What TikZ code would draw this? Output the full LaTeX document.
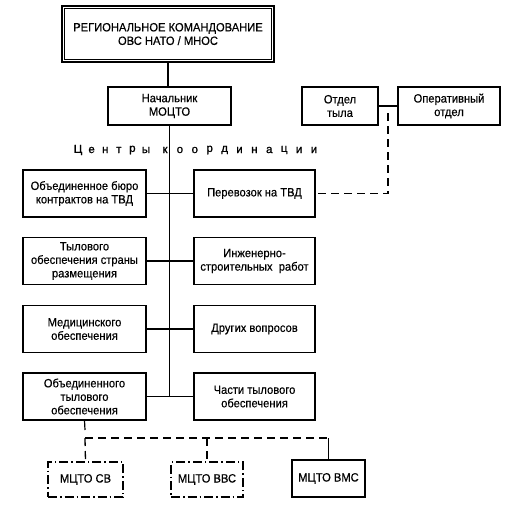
\documentclass[tikz,border=0pt]{standalone}
\usepackage{fontspec}
\setmainfont[FakeStretch=0.93,FakeBold=0.4]{Liberation Sans}
\newfontfamily\letterfont[FakeBold=1]{Liberation Sans}
\begin{document}
\begin{tikzpicture}[x=1pt,y=-1pt,
  box/.style={draw,line width=1.2pt,inner sep=0pt,align=center,font=\fontsize{12}{13.5}\selectfont},
  lbox/.style={box,minimum width=123pt,minimum height=47pt},
  rbox/.style={box,minimum width=121pt,minimum height=47pt},
  conn/.style={line width=1.2pt},
  dline/.style={line width=1.3pt,dash pattern=on 8pt off 5pt},
  ddbox/.style={box,dash pattern=on 9pt off 3pt on 1.5pt off 3pt},
  letter/.style={inner sep=0pt,font=\letterfont\fontsize{11.5}{12}\selectfont}]
\useasboundingbox (0,0) rectangle (511,515);
% top
\node[box,line width=2.4pt,minimum width=212pt,minimum height=56pt] (top) at (168,34)
  {РЕГИОНАЛЬНОЕ КОМАНДОВАНИЕ\\ОВС НАТО / МНОС};
\draw[line width=0.7pt] ([xshift=4pt,yshift=-4pt]top.north west) rectangle ([xshift=-4pt,yshift=4pt]top.south east);
\node[box,minimum width=123pt,minimum height=38pt] (nach) at (169.5,106) {Начальник\\МОЦТО};
\node[box,minimum width=76pt,minimum height=38pt] (otd) at (340,106) {Отдел\\тыла};
\node[box,minimum width=102pt,minimum height=38pt] (oper) at (449,106) {Оперативный\\отдел};
% centres of coordination
\foreach \c [count=\i from 0] in {Ц,е,н,т,р,ы}
  \node[letter] (ca\i) at (78+13.6*\i,150) {\c};
\foreach \c [count=\i from 0] in {к,о,о,р,д,и,н,а,ц,и,и}
  \node[letter] (cb\i) at (165+14.9*\i,150) {\c};
% left
\node[lbox] (l1) at (84.5,193.5) {Объединенное бюро\\контрактов на ТВД};
\node[lbox] (l2) at (84.5,261) {Тылового\\обеспечения страны\\размещения};
\node[lbox] (l3) at (84.5,329) {Медицинского\\обеспечения};
\node[lbox] (l4) at (84.5,396.5) {Объединенного\\тылового\\обеспечения};
% right
\node[rbox] (r1) at (254.5,193.5) {Перевозок на ТВД};
\node[rbox] (r2) at (254.5,261) {Инженерно-\\строительных\ \ работ};
\node[rbox] (r3) at (254.5,329) {Других вопросов};
\node[rbox] (r4) at (254.5,396.5) {Части тылового\\обеспечения};
% bottom
\node[ddbox,minimum width=75pt,minimum height=35pt] (sv) at (85.5,479.5) {МЦТО СВ};
\node[ddbox,minimum width=72pt,minimum height=35pt] (vvs) at (207,479.5) {МЦТО ВВС};
\node[box,minimum width=73pt,minimum height=37pt] (vms) at (328.5,478.5) {МЦТО ВМС};
% connectors
\draw[conn] (top.south) -- (top.south |- nach.north);
\coordinate (tend) at (nach.south |- l4.east);
\draw[conn] (nach.south) -- (tend);
\draw[conn] (l1.east) -- (r1.west);
\draw[conn] (l2.east) -- (r2.west);
\draw[conn] (l3.east) -- (r3.west);
\draw[conn] (l4.east) -- (r4.west);
\draw[conn] (otd.east) -- (oper.west);
\coordinate (d1) at (388,113);
\coordinate (d2) at (388,193.5);
\draw[dline] (d1) -- (d2) -- (r1.east);
\coordinate (b1) at (85,430);
\coordinate (b0) at (85,438);
\coordinate (b3) at (328.5,438);
\draw[conn] (l4.south) -- (b1);
\draw[dline] (b0) -- (b3);
\draw[dline] (b0) -- (sv.north);
\draw[dline] (vvs.north |- b0) -- (vvs.north);
\draw[conn] (b3) -- (vms.north);
\end{tikzpicture}
\end{document}
